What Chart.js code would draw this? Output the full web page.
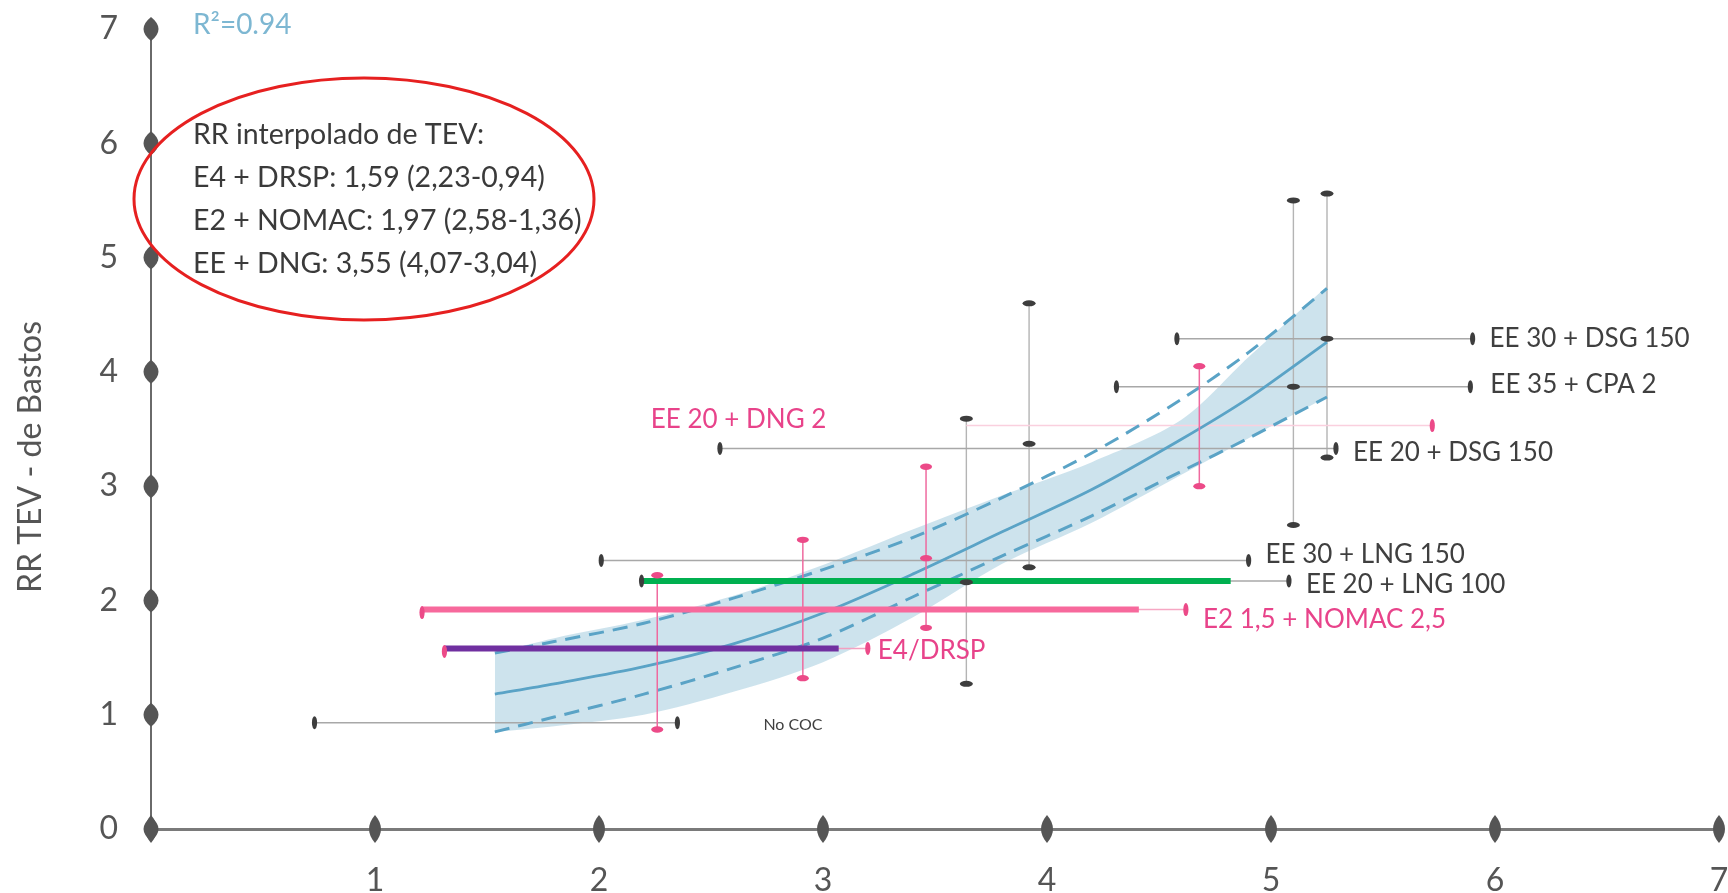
<!DOCTYPE html>
<html><head><meta charset="utf-8">
<script src="https://cdn.jsdelivr.net/npm/chart.js@4.4.1/dist/chart.umd.min.js"></script>
<style>html,body{margin:0;padding:0;background:#fff;}canvas{display:block;}</style>
</head><body>
<canvas id="c" width="1728" height="893"></canvas>
<script>
// ---------- data ----------
const xTicks = [0, 1, 2, 3, 4, 5, 6, 7];
const yTicks = [0, 1, 2, 3, 4, 5, 6, 7];

// regression curve and its confidence band
const curveX     = [1.535, 1.8, 2.2, 2.6, 3.0, 3.4, 3.8, 4.2, 4.6, 4.9, 5.25];
const curveMid   = [1.18, 1.27, 1.42, 1.62, 1.89, 2.23, 2.60, 2.97, 3.41, 3.77, 4.26];
const curveUpper = [1.54, 1.64, 1.80, 2.02, 2.27, 2.55, 2.90, 3.29, 3.76, 4.17, 4.73];
const curveLower = [0.85, 0.98, 1.18, 1.41, 1.67, 2.03, 2.39, 2.74, 3.13, 3.42, 3.78];
const bandUpper  = [1.54, 1.67, 1.83, 2.04, 2.31, 2.62, 2.92, 3.21, 3.58, 4.13, 4.75];
const bandLower  = [0.85, 0.90, 1.00, 1.20, 1.46, 1.85, 2.32, 2.68, 3.10, 3.42, 3.78];

// grey horizontal intervals (products)
const hNames = ['EE 30 + DSG 150', 'EE 35 + CPA 2', 'EE 20 + DSG 150', 'EE 30 + LNG 150', 'EE 20 + LNG 100', 'No COC'];
const hY  = [4.29, 3.87, 3.33, 2.35, 2.17, 0.93];
const hLo = [4.58, 4.31, 2.54, 2.01, 2.19, 0.73];
const hHi = [5.90, 5.89, 5.29, 4.90, 5.08, 2.35];

// grey vertical intervals
const vX   = [5.25, 5.10, 3.92, 3.64];
const vLo  = [3.25, 2.66, 2.29, 1.27];
const vHi  = [5.56, 5.50, 4.60, 3.59];
const vMid = [4.29, 3.87, 3.37, 2.16];

// pink vertical intervals (interpolated RR)
const pvX   = [2.26, 2.91, 3.46, 4.68];
const pvLo  = [0.87, 1.32, 1.76, 3.00];
const pvHi  = [2.22, 2.53, 3.17, 4.05];
const pvMid = [null, null, 2.37, null];

// pink horizontal intervals (new products)
const pNames = ['EE 20 + DNG 2', 'E2 1,5 + NOMAC 2,5', 'E4/DRSP'];
const pY  = [3.53, 1.92, 1.58];
const pLo = [3.64, 1.21, 1.31];
const pHi = [5.72, 4.62, 3.20];

// thick highlighted segments
const thickY  = [1.58, 1.92, 2.17];
const thickLo = [1.31, 1.21, 2.19];
const thickHi = [3.07, 4.41, 4.82];

const r2Text = 'R\u00b2=0.94';
const boxLines = ['RR interpolado de TEV:', 'E4 + DRSP: 1,59 (2,23-0,94)', 'E2 + NOMAC: 1,97 (2,58-1,36)', 'EE + DNG: 3,55 (4,07-3,04)'];
const yTitle = 'RR TEV - de Bastos';

// ---------- styles ----------
const FONT = 'Lato, "Open Sans", sans-serif';
const BLUE = '#5aa3c6';
const thickColors = ['#7030a0', '#f7699c', '#00b050'];
const pinkThin = ['#fad0de', '#f6a7c3', '#f3a0c0'];
const pinkLeftCap = [false, true, true];
const hLabelDx = [17, 20, 17, 17, 17, 86], hLabelDy = [0, -2, 4, -6, 4, 2];

const pts = (xs, ys) => xs.map((x, i) => ({x, y: ys[i]}));
const seg = (x1, y1, x2, y2) => [{x: x1, y: y1}, {x: x2, y: y2}];

const datasets = [];
datasets.push({data: pts(curveX, bandLower), borderWidth: 0, pointRadius: 0, fill: false, tension: 0.3, order: 30});
datasets.push({data: pts(curveX, bandUpper), borderWidth: 0, pointRadius: 0, fill: '-1', backgroundColor: 'rgba(196,222,234,0.85)', tension: 0.3, order: 29});
hY.forEach((y, i) => datasets.push({data: seg(hLo[i], y, hHi[i], y), borderColor: '#a8a8a8', borderWidth: 1.6, pointRadius: 0, order: 20}));
vX.forEach((x, i) => datasets.push({data: seg(x, vLo[i], x, vHi[i]), borderColor: '#b4b4b4', borderWidth: 1.4, pointRadius: 0, order: 20}));
pY.forEach((y, i) => datasets.push({data: seg(pLo[i], y, pHi[i], y), borderColor: pinkThin[i], borderWidth: 1.6, pointRadius: 0, order: 19}));
datasets.push({data: pts(curveX, curveUpper), borderColor: BLUE, borderWidth: 3, borderDash: [15, 9], pointRadius: 0, tension: 0.3, order: 10});
datasets.push({data: pts(curveX, curveLower), borderColor: BLUE, borderWidth: 3, borderDash: [15, 9], pointRadius: 0, tension: 0.3, order: 10});
datasets.push({data: pts(curveX, curveMid), borderColor: BLUE, borderWidth: 2.8, pointRadius: 0, tension: 0.3, order: 10});
pvX.forEach((x, i) => datasets.push({data: seg(x, pvLo[i], x, pvHi[i]), borderColor: '#ef6a9f', borderWidth: 1.5, pointRadius: 0, order: 5}));
thickY.forEach((y, i) => datasets.push({data: seg(thickLo[i], y, thickHi[i], y), borderColor: thickColors[i], borderWidth: 6, borderCapStyle: 'butt', pointRadius: 0, order: 1}));
datasets.forEach(d => { d.showLine = true; });

function blob(ctx, x, y, rx, ry, color) {
  ctx.beginPath();
  ctx.ellipse(x, y, rx, ry, 0, 0, Math.PI * 2);
  ctx.fillStyle = color;
  ctx.fill();
}
function almond(ctx, x, y, w, h, color) {
  ctx.beginPath();
  ctx.moveTo(x, y - h);
  ctx.bezierCurveTo(x + w, y - h * 0.35, x + w, y + h * 0.35, x, y + h);
  ctx.bezierCurveTo(x - w, y + h * 0.35, x - w, y - h * 0.35, x, y - h);
  ctx.fillStyle = color;
  ctx.fill();
}

const deco = {
  id: 'deco',
  afterDraw(chart) {
    const {ctx, scales: {x, y}, chartArea: a} = chart;
    const X = v => x.getPixelForValue(v), Y = v => y.getPixelForValue(v);
    ctx.save();
    const DARK = '#3d3d3d', PINK = '#ec4a88';
    hY.forEach((v, i) => { blob(ctx, X(hLo[i]), Y(v), 2.6, 6.5, DARK); blob(ctx, X(hHi[i]), Y(v), 2.6, 6.5, DARK); });
    vX.forEach((v, i) => {
      blob(ctx, X(v), Y(vHi[i]), 6.5, 3, DARK);
      blob(ctx, X(v), Y(vLo[i]), 6.5, 3, DARK);
      blob(ctx, X(v), Y(vMid[i]), 6.5, 3, DARK);
    });
    pvX.forEach((v, i) => {
      blob(ctx, X(v), Y(pvHi[i]), 6, 3.2, PINK);
      blob(ctx, X(v), Y(pvLo[i]), 6, 3.2, PINK);
      if (pvMid[i] !== null) blob(ctx, X(v), Y(pvMid[i]), 6, 3.2, PINK);
    });
    pY.forEach((v, i) => {
      blob(ctx, X(pHi[i]), Y(v), 2.6, 6.5, PINK);
      if (pinkLeftCap[i]) blob(ctx, X(pLo[i]), Y(v) + 3, 2.6, 6.5, PINK);
    });
    // axis markers
    xTicks.forEach(v => almond(ctx, X(v), a.bottom, 8, 14, '#555'));
    yTicks.forEach(v => almond(ctx, a.left, Y(v), 10, 12, '#555'));

    // labels
    ctx.textBaseline = 'middle';
    ctx.textAlign = 'left';
    hNames.forEach((t, i) => {
      ctx.font = (i === 5 ? '16px ' : '26px ') + FONT;
      ctx.fillStyle = '#3f3f3f';
      ctx.fillText(t, X(hHi[i]) + hLabelDx[i], Y(hY[i]) + hLabelDy[i]);
    });
    ctx.fillStyle = '#e8438a';
    ctx.font = '26px ' + FONT;
    ctx.fillText(pNames[1], X(pHi[1]) + 17, Y(pY[1]) + 10);
    ctx.fillText(pNames[2], X(pHi[2]) + 10, Y(pY[2]) + 2);
    ctx.textAlign = 'right';
    ctx.fillText(pNames[0], X(pLo[0]) - 140, Y(pY[0]) - 6);

    // R2
    ctx.textAlign = 'left';
    ctx.fillStyle = '#7db7d2';
    ctx.font = '28px ' + FONT;
    ctx.fillText(r2Text, a.left + 42, a.top - 4);

    // red ellipse + text
    ctx.beginPath();
    ctx.ellipse(a.left + 213, a.top + 170, 230, 121, 0, 0, Math.PI * 2);
    ctx.strokeStyle = '#e62020';
    ctx.lineWidth = 3;
    ctx.stroke();
    ctx.fillStyle = '#3a3a3a';
    ctx.font = '28.5px ' + FONT;
    boxLines.forEach((t, i) => ctx.fillText(t, a.left + 42, a.top + 106 + i * 43));

    // y title
    ctx.save();
    ctx.translate(31, 457);
    ctx.rotate(-Math.PI / 2);
    ctx.textAlign = 'center';
    ctx.fillStyle = '#555';
    ctx.font = '32px ' + FONT;
    ctx.fillText(yTitle, 0, 0);
    ctx.restore();
    ctx.restore();
  }
};

new Chart(document.getElementById('c'), {
  type: 'scatter',
  data: {datasets},
  options: {
    responsive: false, animation: false, devicePixelRatio: 1,
    layout: {padding: {top: 29, right: 9, left: 0, bottom: 0}},
    plugins: {legend: {display: false}, tooltip: {enabled: false}},
    scales: {
      x: {
        type: 'linear', min: 0, max: 7,
        afterBuildTicks: s => { s.ticks = xTicks.map(v => ({value: v})); },
        afterFit: s => { s.height = 64; s.paddingLeft = 0; s.paddingRight = 0; },
        grid: {display: false, drawTicks: false},
        border: {display: true, color: '#7a7a7a', width: 3},
        ticks: {padding: 32, color: '#555', font: {family: FONT, size: 32}, autoSkip: false, maxRotation: 0,
                callback: v => v === 0 ? '' : String(v)}
      },
      y: {
        type: 'linear', min: 0, max: 7,
        afterBuildTicks: s => { s.ticks = yTicks.map(v => ({value: v})); },
        afterFit: s => { s.width = 151; s.paddingTop = 0; s.paddingBottom = 0; },
        grid: {display: false, drawTicks: false},
        border: {display: true, color: '#6a6a6a', width: 2},
        ticks: {padding: 33, color: '#555', font: {family: FONT, size: 32}, autoSkip: false, callback: v => String(v)}
      }
    }
  },
  plugins: [deco]
});
</script>
</body></html>
